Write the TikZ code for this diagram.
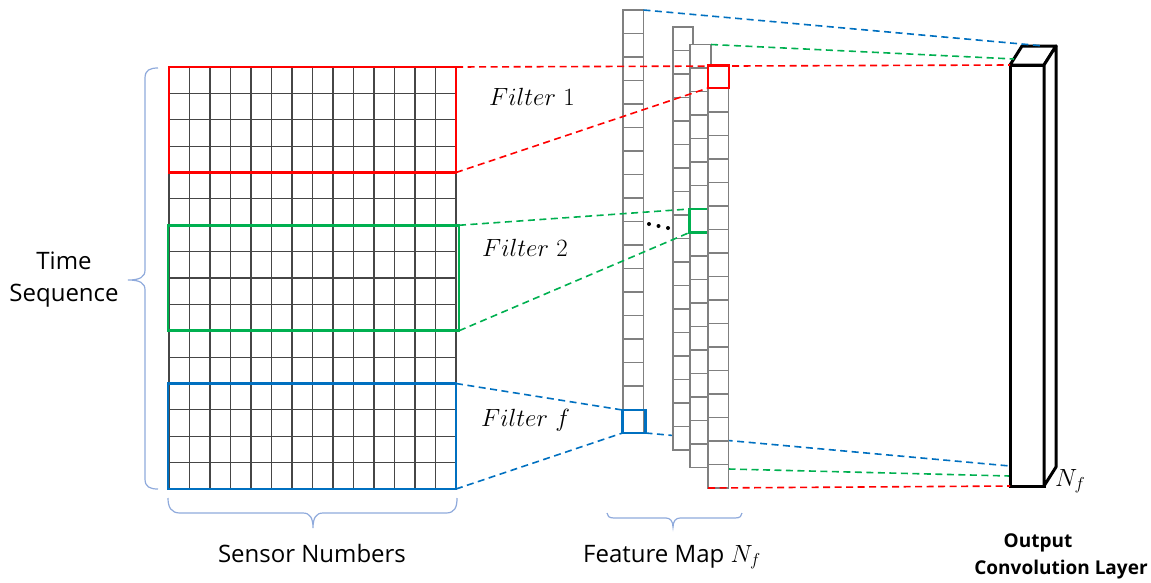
\documentclass[tikz,border=0pt]{standalone}
\usepackage{fontspec}
\newfontfamily\labelsans{Open Sans}
\definecolor{fred}{HTML}{FF0000}
\definecolor{fgreen}{HTML}{00B050}
\definecolor{fblue}{HTML}{0070C0}
\definecolor{gridc}{HTML}{464646}
\definecolor{cellc}{HTML}{808080}
\definecolor{bracec}{HTML}{8FAADC}
\newcommand\featcol[3]{\foreach \i in {0,...,17} \draw[cell] (#1,{#2+\i*23.5}) rectangle ++(#3,23.5);}
\begin{document}
\begin{tikzpicture}[x=1pt,y=-1pt,
  gridline/.style={draw=gridc, line width=1.1pt},
  cell/.style={draw=cellc, fill=white, line width=1.4pt},
  filterbox/.style={line width=2.6pt, inner sep=0pt, outer sep=0pt, anchor=north west},
  conn/.style={dash pattern=on 7pt off 4.5pt, line width=1.6pt},
  bracestyle/.style={draw=bracec, line width=1.2pt},
  lbl/.style={font=\labelsans\fontsize{24}{32}\selectfont, inner sep=0pt},
  boldlbl/.style={font=\labelsans\bfseries\fontsize{19}{24}\selectfont, inner sep=0pt},
  mathlbl/.style={font=\fontsize{24}{28}\selectfont, inner sep=0pt},
  outline/.style={draw=black, line width=3pt, fill=white}]
\useasboundingbox (0,0) rectangle (1151,582);

% sensor grid
\foreach \i in {0,...,14} \draw[gridline] ({169+\i*20.5},67) -- ({169+\i*20.5},489);
\foreach \j in {0,...,16} \draw[gridline] (169,{67+\j*26.375}) -- (456,{67+\j*26.375});

% filters on the grid
\node[filterbox, draw=fred, minimum width=287pt, minimum height=105.5pt] (F1) at (169,67) {};
\node[filterbox, draw=fgreen, minimum width=291pt, minimum height=105.5pt] (F2) at (168,225.25) {};
\node[filterbox, draw=fblue, minimum width=288pt, minimum height=105.5pt] (F3) at (168,383.5) {};

% braces
\draw[bracestyle] (158,68) .. controls (150,68) and (145,70) .. (145,78) -- (145,270)
  .. controls (145,277) and (140,280) .. (128,280)
  .. controls (140,280) and (145,283) .. (145,290) -- (145,479)
  .. controls (145,487) and (150,489) .. (158,489);
\draw[bracestyle] (168,498) .. controls (168,507) and (171,513) .. (180,513) -- (303,513)
  .. controls (310,513) and (313,518) .. (313,528)
  .. controls (313,518) and (316,513) .. (323,513) -- (446,513)
  .. controls (455,513) and (457,507) .. (457,498);
\draw[bracestyle] (607,513) .. controls (607,516) and (609,518) .. (614,518) -- (666,518)
  .. controls (670,518) and (673,521) .. (673,527)
  .. controls (673,521) and (676,518) .. (680,518) -- (735,518)
  .. controls (740,518) and (742,516) .. (742,513);

% key points
\coordinate (c1tr) at (643.5,10);
\coordinate (c3tr) at (711,44.5);
\coordinate (c4bl) at (708,488);
\coordinate (c4br) at (728.5,469);
\coordinate (oBackTop) at (1044,46);
\coordinate (oDiag) at (1014,59);
\coordinate (oLeftB) at (1010,466);
\coordinate (oLeftG) at (1010,476);

% feature map column 1 and its blue cell
\featcol{623}{10}{20.5}
\node[filterbox, draw=fblue, minimum width=23pt, minimum height=23pt] (B) at (622.5,410) {};

% connectors passing behind the later columns
\draw[conn, fblue] (B.south east) -- (oLeftB);
\draw[conn, fgreen] (c4br) -- (oLeftG);

% columns 2-4
\featcol{673}{27}{20}
\featcol{690}{44.5}{21}
\node[filterbox, draw=fgreen, minimum width=19pt, minimum height=23.5pt] (G) at (689.5,209) {};
\featcol{708}{65}{20.5}
\node[filterbox, draw=fred, minimum width=21pt, minimum height=22.5pt] (R) at (708,65.5) {};

% dots
\fill (649,224) circle (2) (658.5,226) circle (2) (668,228) circle (2);

% output layer
\node[outline, inner sep=0pt, outer sep=0pt, minimum width=34pt, minimum height=421pt, anchor=north west] (O) at (1010,65) {};
\filldraw[outline, line join=round] (O.north west) -- ++(12,-19) -- ++(34,0) -- (O.north east) -- cycle;
\filldraw[outline, line join=round] (O.north east) -- ++(12,-19) -- ++(0,421) -- (O.south east) -- cycle;

% front connectors
\draw[conn, fred] (F1.north east) -- (O.north west);
\draw[conn, fred] (F1.south east) -- (R.south west);
\draw[conn, fgreen] (F2.north east) -- (G.north west);
\draw[conn, fgreen] (F2.south east) -- (G.south west);
\draw[conn, fblue] (F3.north east) -- (B.north west);
\draw[conn, fblue] (F3.south east) -- (B.south west);
\draw[conn, fblue] (c1tr) -- (oBackTop);
\draw[conn, fgreen] (c3tr) -- (oDiag);
\draw[conn, fred] (c4bl) -- (O.south west);

% labels
\node[lbl, align=center] (ts) at (64,280) {Time\\Sequence};
\node[lbl, anchor=base] (sn) at (312,562) {Sensor Numbers};
\node[lbl, anchor=base] (fm) at (672,562) {Feature Map $N_f$};
\node[boldlbl, anchor=base] (o1) at (1038,547) {Output};
\node[boldlbl, anchor=base] (o2) at (1061,574) {Convolution Layer};
\node[mathlbl, anchor=base west] (l1) at (489,105) {$Filter\ 1$};
\node[mathlbl, anchor=base west] (l2) at (482,256) {$Filter\ 2$};
\node[mathlbl, anchor=base west] (l3) at (481,426) {$Filter\ f$};
\node[mathlbl, anchor=base west] (nf) at (1055,486) {$N_f$};
\end{tikzpicture}
\end{document}
